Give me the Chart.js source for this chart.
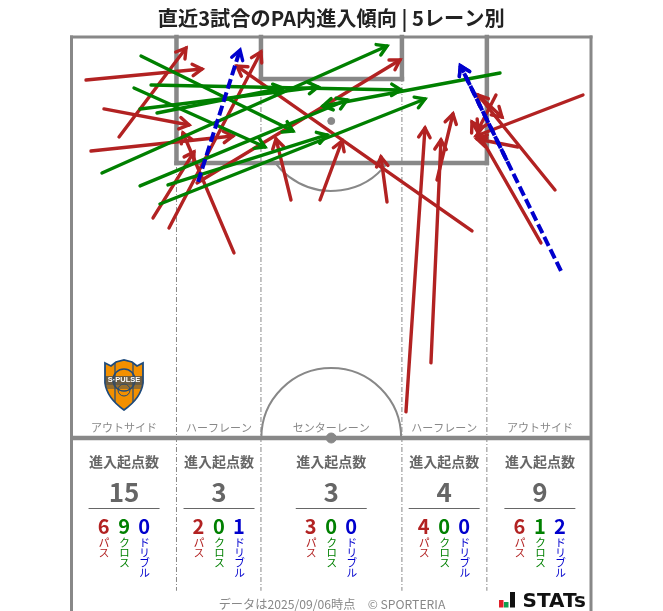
<!DOCTYPE html>
<html lang="ja"><head><meta charset="utf-8">
<script src="https://cdn.jsdelivr.net/npm/chart.js@4"></script>
<style>
html,body{margin:0;padding:0;background:#fff}
#wrap{position:relative;width:663px;height:611px;overflow:hidden}
canvas{display:block}
.v{position:absolute;top:537px;writing-mode:vertical-rl;text-orientation:upright;font:11px/11px "Noto Sans CJK JP";letter-spacing:-1px;white-space:nowrap}
</style></head><body>
<div id="wrap"><canvas id="c" width="663" height="611"></canvas></div>
<script>
// Pitch coordinates in metres: x across the 68 m width, y away from the goal line.
const titleText = "直近3試合のPA内進入傾向 | 5レーン別";
const footerText = "データは2025/09/06時点　© SPORTERIA";
const laneNames = ["アウトサイド","ハーフレーン","センターレーン","ハーフレーン","アウトサイド"];
const laneCenters = [6.88,19.31,34,48.78,61.31];
const laneBorders = [13.74,24.8,43.25,54.37];
const totals = [15,3,3,4,9];
const passCounts = [6,2,3,4,6];
const crossCounts = [9,0,0,0,1];
const dribbleCounts = [0,1,0,0,2];

// each row: startX, startY, endX, endY
const passArrows = [
 [1.90,5.63,17.08,4.19],[6.22,13.09,14.99,1.44],[4.25,9.42,15.38,11.52],[2.55,14.92,21.14,12.96],
 [10.67,23.69,16.03,15.05],[12.76,25.00,24.80,1.96],[21.27,28.27,14.59,12.57],[16.43,19.11,43.00,3.01],
 [28.73,21.34,26.77,13.35],[32.53,21.34,35.41,13.61],[41.30,21.60,40.51,15.71],
 [43.78,49.08,46.27,11.91],[47.05,42.67,48.36,13.48],[47.84,18.72,49.93,10.08],[52.42,25.39,21.66,3.80],
 [66.95,7.59,52.95,12.96],[63.29,20.03,53.21,7.59],[61.45,26.96,52.42,11.13],[58.44,14.40,53.08,13.35],
 [55.56,7.59,53.21,12.17],[53.21,7.59,56.35,10.47]
];
const crossArrows = [
 [9.10,2.49,28.99,12.30],[8.18,6.68,25.33,14.40],[10.41,6.28,43.13,6.94],[8.97,9.42,32.26,6.54],
 [11.19,9.95,27.68,6.68],[3.99,17.80,41.30,1.18],[8.97,19.50,36.06,8.25],[11.58,21.86,46.27,8.12],
 [12.63,19.37,33.44,12.83],[56.09,4.71,32.92,9.03]
];
const dribbleArrows = [
 [16.56,18.98,22.06,1.70],[64.07,30.63,50.90,3.75],[56.99,16.18,50.90,3.75]
];
const pitchLines = [
 [0,0,68,0,3,'square'],[0,0,0,75.2,3,'square'],[68,0,68,75.2,3,'square'],[0,52.5,68,52.5,4.5,'butt'],
 [13.74,0,13.74,16.5,4.5,'square'],[54.37,0,54.37,16.5,4.5,'square'],[13.74,16.5,54.37,16.5,4.5,'square'],
 [24.8,0,24.8,5.5,4.5,'square'],[43.25,0,43.25,5.5,4.5,'square'],[24.8,5.5,43.25,5.5,4.5,'square']
];
const spots = [[34,11,3.5],[34,52.5,5]];
const laneBottomY = 72.5;

const RED="#b22222", GREEN="#008000", BLUE="#0000cd", PITCH="#888888";
const FONT='"Noto Sans CJK JP"';

const datasets = [];
pitchLines.forEach(l=>datasets.push({data:[{x:l[0],y:l[1]},{x:l[2],y:l[3]}],borderColor:PITCH,borderWidth:l[4],pointRadius:0,showLine:true,clip:false,order:90,borderCapStyle:l[5]}));
laneBorders.forEach(x=>datasets.push({data:[{x:x,y:0},{x:x,y:laneBottomY}],borderColor:"#888",borderWidth:1,borderDash:[5,2,1,2],pointRadius:0,showLine:true,clip:false,order:95}));
spots.forEach(s=>datasets.push({data:[{x:s[0],y:s[1]}],backgroundColor:PITCH,borderColor:PITCH,pointRadius:s[2],showLine:false,clip:false,order:85}));
function addArrows(rows,color,order,dash){
  rows.forEach(r=>datasets.push({data:[{x:r[0],y:r[1]},{x:r[2],y:r[3]}],borderColor:color,backgroundColor:color,borderWidth:dash?4:3.4,
    borderDash:dash||[],borderCapStyle:dash?'butt':'round',pointRadius:0,showLine:true,clip:false,order:order,arrow:true}));
}
addArrows(passArrows,RED,30);
addArrows(crossArrows,GREEN,20);
addArrows(dribbleArrows,BLUE,10,[10,4]);

const arrowHeads = {id:'arrowHeads',afterDatasetDraw(chart,args){
  const ds=chart.data.datasets[args.index]; if(!ds.arrow) return;
  const pts=chart.getDatasetMeta(args.index).data, a=pts[0], b=pts[1];
  const t=Math.atan2(b.y-a.y,b.x-a.x), L=11, w=0.55, c=chart.ctx;
  c.save(); c.strokeStyle=ds.borderColor; c.lineWidth=3.4; c.lineCap='round'; c.lineJoin='miter'; c.setLineDash([]);
  c.beginPath();
  c.moveTo(b.x-L*Math.cos(t-w),b.y-L*Math.sin(t-w));
  c.lineTo(b.x,b.y);
  c.lineTo(b.x-L*Math.cos(t+w),b.y-L*Math.sin(t+w));
  c.stroke(); c.restore();
}};

const pitchArcs = {id:'pitchArcs',beforeDatasetsDraw(chart){
  const c=chart.ctx,X=chart.scales.x,Y=chart.scales.y;
  const r=X.getPixelForValue(9.15)-X.getPixelForValue(0), cx=X.getPixelForValue(34);
  c.save(); c.strokeStyle=PITCH; c.lineWidth=2;
  c.beginPath(); c.arc(cx,Y.getPixelForValue(52.5),r,Math.PI,2*Math.PI); c.stroke();
  const py=Y.getPixelForValue(11), box=Y.getPixelForValue(16.5), da=Math.asin((box-py)/r);
  c.beginPath(); c.arc(cx,py,r,da,Math.PI-da); c.stroke();
  c.restore();
}};

function text(c,s,x,y,font,color,align){c.font=font;c.fillStyle=color;c.textAlign=align||'center';c.textBaseline='middle';c.fillText(s,x,y);}
const labels = {id:'labels',afterDraw(chart){
  const c=chart.ctx,X=chart.scales.x; c.save();
  laneCenters.forEach((m,i)=>{
    const x=X.getPixelForValue(m);
    text(c,laneNames[i],x,428,'11px '+FONT,'#888');
    text(c,'進入起点数',x,462,'bold 14px '+FONT,'#666');
    text(c,String(totals[i]),x,492,'bold 26px '+FONT,'#666');
    c.strokeStyle='#666';c.lineWidth=1;c.beginPath();c.moveTo(x-35.5,508.5);c.lineTo(x+35.5,508.5);c.stroke();
    text(c,String(passCounts[i]),x-20.5,526,'bold 20px '+FONT,RED);
    text(c,String(crossCounts[i]),x,526,'bold 20px '+FONT,GREEN);
    text(c,String(dribbleCounts[i]),x+20,526,'bold 20px '+FONT,BLUE);
  });
  text(c,footerText,332,604,'12.2px '+FONT,'#888');
  // club crest
  c.translate(124,385);
  c.beginPath();
  c.moveTo(-19,-22);c.lineTo(-13,-19);c.lineTo(-8,-23);c.lineTo(0,-25);c.lineTo(8,-23);c.lineTo(13,-19);c.lineTo(19,-22);
  c.lineTo(19,-2);c.quadraticCurveTo(17,13,0,25);c.quadraticCurveTo(-17,13,-19,-2);c.closePath();
  c.fillStyle='#f39000';c.fill();c.strokeStyle='#1d4a7c';c.lineWidth=1.8;c.stroke();
  c.save();c.clip();c.strokeStyle='#1d4a7c';c.lineWidth=1.2;
  [-9,9].forEach(d=>{c.beginPath();c.moveTo(d,-22);c.lineTo(d,22);c.stroke();});
  c.beginPath();c.arc(0,-5,11,0,7);c.lineWidth=1.5;c.stroke();
  c.beginPath();c.arc(0,5,6,0,7);c.lineWidth=1;c.stroke();
  c.fillStyle='rgba(60,75,90,.75)';c.fillRect(-19,-9,38,9);
  c.fillStyle='rgba(60,75,90,.5)';c.fillRect(-19,0,38,4);c.restore();
  text(c,'S·PULSE',0,-5,'bold 7.5px "Liberation Sans"','#fff');
  c.setTransform(chart.currentDevicePixelRatio,0,0,chart.currentDevicePixelRatio,0,0);
  // STATS mark
  c.fillStyle='#e0202a';c.fillRect(499,600,4.5,7.5);
  c.fillStyle='#10a050';c.fillRect(504,602,4.5,5.5);
  c.fillStyle='#111';c.fillRect(510,592,5,15.5);
  c.font='bold 20px "DejaVu Sans"';c.textAlign='left';c.textBaseline='alphabetic';c.fillStyle='#111';
  c.fillText('STATs',522.5,607);
  c.restore();
}};

new Chart(document.getElementById('c'),{
  type:'scatter',
  data:{datasets},
  plugins:[pitchArcs,arrowHeads,labels],
  options:{
    responsive:false,animation:false,events:[],
    layout:{padding:{left:71.5,right:72,top:6,bottom:173}},
    plugins:{legend:{display:false},tooltip:{enabled:false},
      title:{display:true,text:titleText,color:'#222',font:{family:FONT,size:20.2,weight:'bold',lineHeight:1.2},padding:{top:0,bottom:6.76}}},
    scales:{x:{type:'linear',min:0,max:68,display:false},y:{type:'linear',min:0,max:52.5,reverse:true,display:false}}
  }
});
// vertical category labels
const wrap=document.getElementById('wrap');
const vNames=[["パス",RED,-20.5],["クロス",GREEN,0],["ドリブル",BLUE,20]];
const pxPerM=(663-143.5)/68;
laneCenters.forEach(m=>vNames.forEach(v=>{
  const s=document.createElement('span');s.className='v';s.textContent=v[0];s.style.color=v[1];
  s.style.left=(71.5+m*pxPerM+v[2]-5.5)+'px';wrap.appendChild(s);
}));
</script></body></html>
